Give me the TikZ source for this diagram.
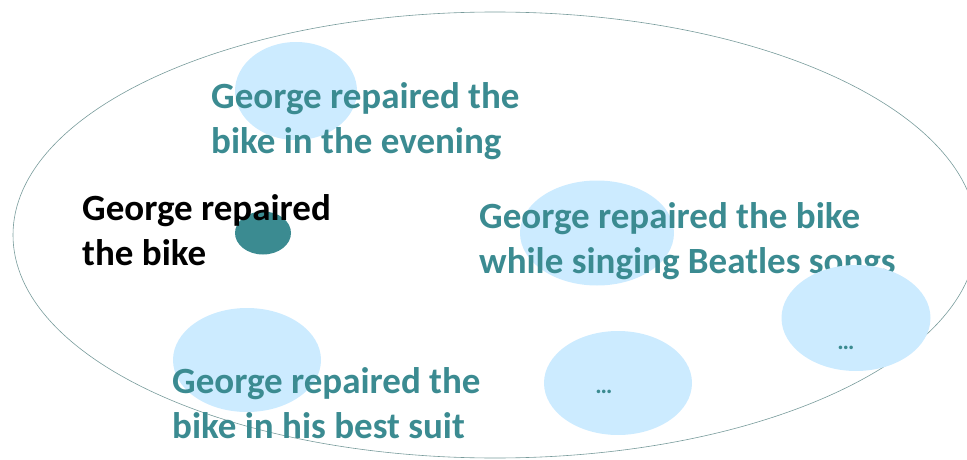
\documentclass[tikz,border=0pt]{standalone}
\usepackage{fontspec}
\setmainfont{Carlito}
\usetikzlibrary{shapes.geometric}
\definecolor{qteal}{RGB}{59,139,145}
\definecolor{qblue}{RGB}{204,235,255}
\definecolor{qline}{RGB}{120,155,155}

\begin{document}
\begin{tikzpicture}[x=1pt,y=-1pt,
  blob/.style={ellipse, fill=qblue, draw=none, inner sep=0pt},
  phrase/.style={anchor=base west, align=left, inner sep=0pt, text=qteal,
    font=\bfseries\fontsize{37}{45}\selectfont},
  dots/.style={text=qteal, inner sep=0pt, font=\bfseries\fontsize{24}{28}\selectfont}]
\useasboundingbox (0,0) rectangle (967,460);
\clip (0,0) rectangle (967,460);

% the space of all events
\draw[qline, line width=0.6pt] (495,235) ellipse [x radius=482, y radius=223];

\node[blob, minimum width=122pt, minimum height=98pt] (evening) at (296,91) {};
\node[blob, minimum width=154pt, minimum height=105pt] (beatles) at (597,233) {};
\node[blob, minimum width=148pt, minimum height=104pt] (suit) at (247,360) {};
\node[blob, minimum width=148pt, minimum height=104pt] (other) at (618,383) {};

\node[ellipse, fill=qteal, inner sep=0pt, minimum width=56pt, minimum height=43pt] (event) at (263,233) {};

\node[phrase] (t-evening) at (211,153) {George repaired the\\bike in the evening};
\node[phrase, text=black] (t-event) at (82,265) {George repaired\\the bike};
\node[phrase] (t-beatles) at (479,273) {George repaired the bike\\while singing Beatles songs};
\node[phrase] (t-suit) at (172,438) {George repaired the\\bike in his best suit};

\node[blob, minimum width=149pt, minimum height=106pt] (more) at (856,318) {};

\node[dots] (d-other) at (604,392) {\dots};
\node[dots] (d-more) at (846,348) {\dots};

\end{tikzpicture}
\end{document}
